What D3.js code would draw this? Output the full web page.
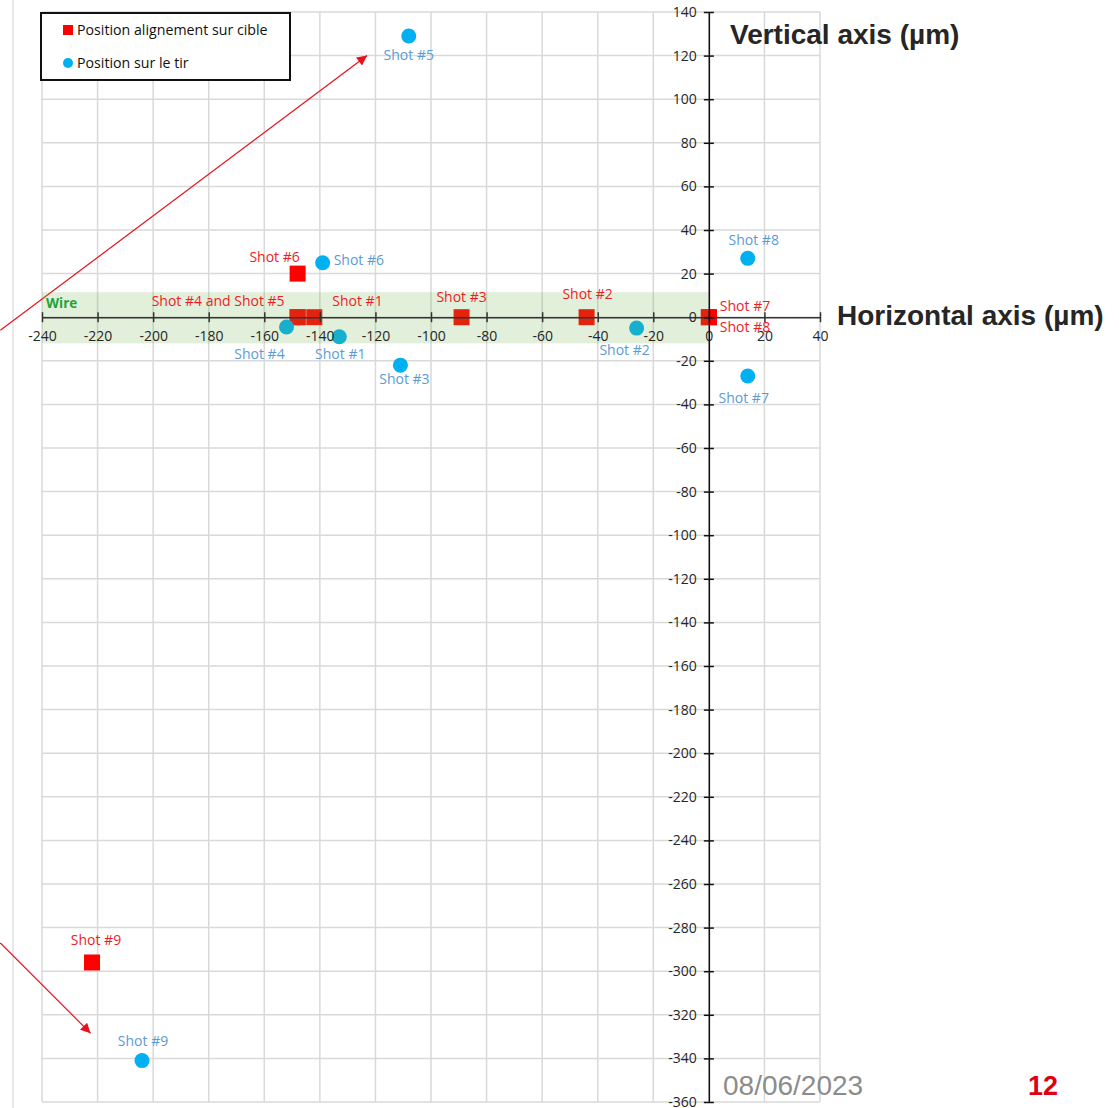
<!DOCTYPE html>
<html>
<head>
<meta charset="utf-8">
<script src="https://cdn.jsdelivr.net/npm/d3@7"></script>
<style>
  html, body { margin: 0; padding: 0; background: #fff; }
  svg { display: block; }
</style>
</head>
<body>
<svg id="chart" width="1119" height="1108"></svg>
<script>
// Shot numbers
const shots = ["Shot #1", "Shot #2", "Shot #3", "Shot #4", "Shot #5", "Shot #6", "Shot #7", "Shot #8", "Shot #9"];

// Alignment position on target (µm)
const alignX = [-142, -44, -89, -148, -148, -148, 0, 0, -222];
const alignY = [0, 0, 0, 0, 0, 20, 0, 0, -296];

// Position measured on the shot (µm)
const shotX = [-133, -26, -111, -152, -108, -139, 14, 14, -204];
const shotY = [-9, -5, -22, -4.5, 129, 25, -27, 27, -341];

// Axis ticks
const xTicks = d3.range(-240, 41, 20);
const yTicks = d3.range(-360, 141, 20);

// Wire band (µm)
const wireX = [-240, 0];
const wireY = [-12, 11.5];

// Legend entries
const legendLabels = ["Position alignement sur cible", "Position sur le tir"];

// Label placement for the alignment markers: [text, index of marker, dx, dy, anchor]
const alignLabelLayout = [
  ["Shot #1", 0, 18, -16, "start"],
  ["Shot #2", 1, 1, -23, "middle"],
  ["Shot #3", 2, 0, -20, "middle"],
  ["Shot #4 and Shot #5", 3, -13, -16, "end"],
  ["Shot #6", 5, -23, -17, "middle"],
  ["Shot #7", 6, 11, -11, "start"],
  ["Shot #8", 7, 11, 10, "start"],
  ["Shot #9", 8, 4, -22, "middle"]
];
// Label placement for the shot markers: [index, dx, dy, anchor]
const shotLabelLayout = [
  [0, 1, 17, "middle"],
  [1, -12, 22, "middle"],
  [2, 4, 14, "middle"],
  [3, -27, 27, "middle"],
  [4, 0, 19, "middle"],
  [5, 11, -3, "start"],
  [6, -4, 22, "middle"],
  [7, 6, -18, "middle"],
  [8, 1, -19, "middle"]
];

// Arrows drawn in data space: [x1, y1, x2, y2]
const arrows = [
  [-255, -6, -123, 120],
  [-255, -287, -222.5, -328.5]
];

const svg = d3.select("#chart");
const W = 1119, H = 1108;

const x = d3.scaleLinear().domain([-240, 40]).range([42, 820]);
const y = d3.scaleLinear().domain([-360, 140]).range([1102, 12]);

const RED = "#ff0000";
const BLUE = "#00b0f0";
const RED_TXT = "#ee1c25";
const BLUE_TXT = "#5b9bd5";
const LABEL_FONT = "'Open Sans', sans-serif";
const TITLE_FONT = "'Liberation Sans', Arial, sans-serif";
const plain = d => String(d);

svg.append("rect").attr("width", W).attr("height", H).attr("fill", "#fff");

// stray slide edge line on the left
svg.append("line")
  .attr("x1", 13).attr("x2", 13).attr("y1", 0).attr("y2", H)
  .attr("stroke", "#e0e0e0").attr("stroke-width", 1.5);

// Grid
const grid = svg.append("g").attr("class", "grid");
grid.selectAll("line.v").data(xTicks).join("line")
  .attr("class", "v")
  .attr("x1", d => x(d)).attr("x2", d => x(d))
  .attr("y1", y(140)).attr("y2", y(-360))
  .attr("stroke", "#d9d9d9").attr("stroke-width", 1.5);
grid.selectAll("line.h").data(yTicks).join("line")
  .attr("class", "h")
  .attr("x1", x(-240)).attr("x2", x(40))
  .attr("y1", d => y(d)).attr("y2", d => y(d))
  .attr("stroke", "#d9d9d9").attr("stroke-width", 1.5);

// Arrows
const defs = svg.append("defs");
defs.append("marker")
  .attr("id", "arrowHead")
  .attr("viewBox", "0 0 10 10")
  .attr("refX", 10).attr("refY", 5)
  .attr("markerWidth", 12).attr("markerHeight", 10)
  .attr("markerUnits", "userSpaceOnUse")
  .attr("orient", "auto")
  .append("path").attr("d", "M0,0 L10,5 L0,10 Z").attr("fill", "#e8101c");

svg.append("g").selectAll("line").data(arrows).join("line")
  .attr("x1", d => x(d[0])).attr("y1", d => y(d[1]))
  .attr("x2", d => x(d[2])).attr("y2", d => y(d[3]))
  .attr("stroke", "#e8101c").attr("stroke-width", 1.2)
  .attr("marker-end", "url(#arrowHead)");

// Markers
const sq = 16;
svg.append("g").selectAll("rect").data(d3.range(alignX.length)).join("rect")
  .attr("x", i => x(alignX[i]) - sq / 2)
  .attr("y", i => y(alignY[i]) - sq / 2)
  .attr("width", sq).attr("height", sq)
  .attr("fill", RED);

svg.append("g").selectAll("circle").data(d3.range(shotX.length)).join("circle")
  .attr("cx", i => x(shotX[i]))
  .attr("cy", i => y(shotY[i]))
  .attr("r", 7.5)
  .attr("fill", BLUE);

// Wire band (translucent, over the markers)
svg.append("rect")
  .attr("x", x(wireX[0])).attr("width", x(wireX[1]) - x(wireX[0]))
  .attr("y", y(wireY[1])).attr("height", y(wireY[0]) - y(wireY[1]))
  .attr("fill", "rgb(112,173,71)").attr("fill-opacity", 0.2);

svg.append("text")
  .attr("x", x(-240) + 4).attr("y", y(4))
  .attr("font-family", LABEL_FONT).attr("font-size", 13.5).attr("font-weight", 700)
  .attr("fill", "#1fa33a")
  .text("Wire");

// Axes crossing at the origin
const xAxis = d3.axisBottom(x).tickValues(xTicks).tickSize(5).tickSizeOuter(0).tickFormat(plain);
const gx = svg.append("g").attr("transform", `translate(0,${y(0)})`).call(xAxis);
gx.select(".domain").attr("stroke", "#333").attr("stroke-width", 1.5);
gx.selectAll(".tick line").attr("y1", -5).attr("y2", 5).attr("stroke", "#333").attr("stroke-width", 1.5);
gx.selectAll(".tick text")
  .attr("y", 14).attr("dy", "0.71em")
  .attr("font-family", LABEL_FONT).attr("font-size", 14).attr("fill", "#262626");

const yAxis = d3.axisLeft(y).tickValues(yTicks).tickSize(5).tickSizeOuter(0).tickFormat(plain);
const gy = svg.append("g").attr("transform", `translate(${x(0)},0)`).call(yAxis);
gy.select(".domain").attr("stroke", "#111").attr("stroke-width", 1.5);
gy.selectAll(".tick line").attr("x1", -5).attr("x2", 5).attr("stroke", "#111").attr("stroke-width", 1.5);
gy.selectAll(".tick text")
  .attr("x", -12)
  .attr("font-family", LABEL_FONT).attr("font-size", 14).attr("fill", "#262626");

// Marker labels
svg.append("g").selectAll("text").data(alignLabelLayout).join("text")
  .attr("x", d => x(alignX[d[1]]) + d[2])
  .attr("y", d => y(alignY[d[1]]) + d[3])
  .attr("dy", "0.35em")
  .attr("text-anchor", d => d[4])
  .attr("font-family", LABEL_FONT).attr("font-size", 14)
  .attr("fill", RED_TXT)
  .text(d => d[0]);

svg.append("g").selectAll("text").data(shotLabelLayout).join("text")
  .attr("x", d => x(shotX[d[0]]) + d[1])
  .attr("y", d => y(shotY[d[0]]) + d[2])
  .attr("dy", "0.35em")
  .attr("text-anchor", d => d[3])
  .attr("font-family", LABEL_FONT).attr("font-size", 14)
  .attr("fill", BLUE_TXT)
  .text(d => shots[d[0]]);

// Legend
const lg = svg.append("g");
lg.append("rect")
  .attr("x", 41).attr("y", 13).attr("width", 249).attr("height", 67)
  .attr("fill", "#fff").attr("stroke", "#111").attr("stroke-width", 2);
lg.append("rect").attr("x", 63).attr("y", 25).attr("width", 10).attr("height", 10).attr("fill", RED);
lg.append("circle").attr("cx", 68).attr("cy", 63).attr("r", 5).attr("fill", BLUE);
lg.selectAll("text").data(legendLabels).join("text")
  .attr("x", 77).attr("y", (d, i) => i === 0 ? 30 : 63)
  .attr("dy", "0.35em")
  .attr("font-family", LABEL_FONT).attr("font-size", 14.2).attr("fill", "#111")
  .text(d => d);

// Axis titles
svg.append("text")
  .attr("x", 730).attr("y", 44)
  .attr("font-family", TITLE_FONT).attr("font-size", 28).attr("font-weight", 700)
  .attr("fill", "#262626")
  .text("Vertical axis (µm)");
svg.append("text")
  .attr("x", 837).attr("y", 325)
  .attr("font-family", TITLE_FONT).attr("font-size", 28).attr("font-weight", 700)
  .attr("fill", "#262626")
  .text("Horizontal axis (µm)");

// Footer
svg.append("text")
  .attr("x", 723).attr("y", 1095)
  .attr("font-family", TITLE_FONT).attr("font-size", 28)
  .attr("fill", "#8c8c8c")
  .text("08/06/2023");
svg.append("text")
  .attr("x", 1028).attr("y", 1095)
  .attr("font-family", TITLE_FONT).attr("font-size", 27).attr("font-weight", 700)
  .attr("fill", "#e00016")
  .text("12");
</script>
</body>
</html>
